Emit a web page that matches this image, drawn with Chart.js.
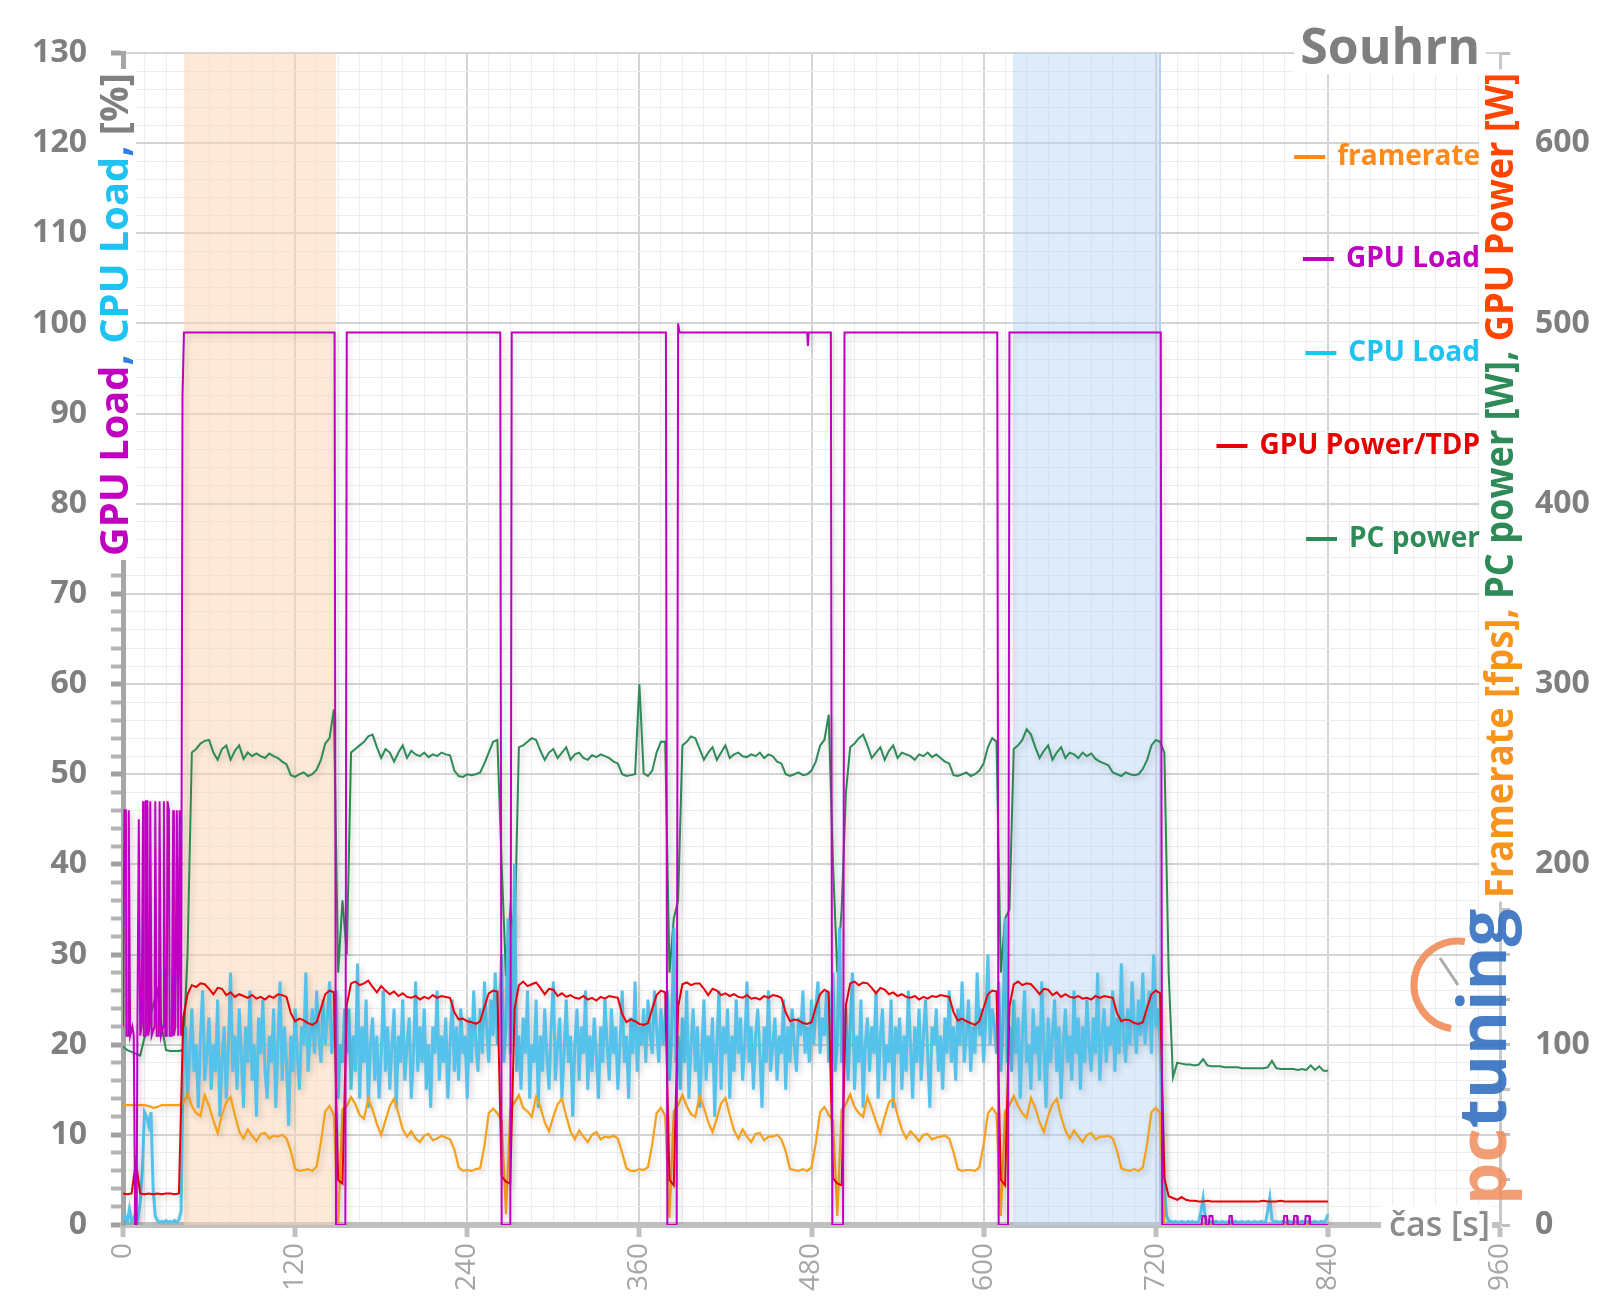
<!DOCTYPE html>
<html>
<head>
<meta charset="utf-8">
<title>Souhrn</title>
<script src="https://cdn.jsdelivr.net/npm/chart.js@4.4.1/dist/chart.umd.min.js"></script>
<style>
  body { margin: 0; background: #fff; }
  #chart { display: block; }
</style>
</head>
<body>
<canvas id="chart" width="1600" height="1313"></canvas>
<script>
//Sampling of the logged series (seconds between samples)
const sampleStep = 3;
const cpuStep = 1.5;

//Framerate [fps] - pre-test, 6 runs with short gaps, idle tail
const framerate = [
  66.5, 66.5, 66.5, 66.5, 66.5, 66.5, 66, 65, 65.5, 66.5, 66.5, 66.5, 66.5, 66.5,
  67.5, 73, 66, 62, 60.5, 72, 66, 58, 51, 61, 68, 71,
  61, 52, 48, 53, 49.5, 46.5, 50.5, 51, 48, 49.5, 49, 50,
  48, 41, 31, 30, 30.5, 31, 30, 32.5, 46, 63, 66, 61,
  0, 64,
  66, 71, 67, 61, 59, 70, 64, 56, 50, 58, 66, 70,
  62, 53, 49, 52, 48, 46, 49.5, 50.5, 47, 48, 49.5, 48.5,
  47.5, 42, 32, 30, 30.5, 30, 31, 31.5, 44, 62, 64.5, 62,
  58, 6, 64,
  68, 72, 65, 63, 60, 71, 65.5, 57, 52, 60, 67, 70,
  60.5, 52, 47.5, 52.5, 49, 46, 50, 51.5, 47.5, 49, 48.5, 49.5,
  48, 40, 31.5, 30, 30, 31, 30.5, 32, 45, 62, 65, 60.5,
  4, 63,
  66.5, 72, 66, 61.5, 60, 71.5, 65, 57, 51.5, 59, 67.5, 70.5,
  61, 52.5, 48, 53, 49, 46, 50.5, 51, 47, 49, 49, 50,
  47.5, 41, 31, 30.5, 30, 31, 30, 32, 45.5, 62.5, 65.5, 61,
  58, 5, 64,
  67, 72.5, 65.5, 62, 60, 71, 64.5, 57.5, 51, 60, 68, 70,
  61, 53, 48, 52, 49.5, 46.5, 50, 50.5, 47.5, 48.5, 49, 49.5,
  48, 40.5, 31, 30, 30.5, 30.5, 30, 32, 44.5, 62, 65, 61.5,
  5, 63,
  66.5, 71.5, 66, 62, 59.5, 70.5, 65, 57, 51.5, 60.5, 67, 70,
  60, 52.5, 48, 52.5, 49, 46, 50, 51, 47.5, 49, 49, 49.5,
  48, 41, 31.5, 30.5, 30, 31, 30, 32, 45, 62.5, 65, 62,
  0, 0, 0, 0, 0, 0, 0, 0, 0, 0, 0, 0, 0,
  0, 0, 0, 0, 0, 0, 0, 0, 0, 0, 0, 0, 0,
  0, 0, 0, 0, 0, 0, 0, 0, 0, 0, 0, 0, 0
];

//CPU Load [%], logged twice as often
const cpuLoad = [
  0.5, 1.0, 0.3, 1.8, 0.4, 0.6, 1.5, 0.8, 2.5, 6, 12.5, 12, 11, 12.5,
  4, 1, 0.5, 0.3, 0.4, 0.3, 0.5, 0.3, 0.4, 0.3, 0.5, 0.3, 0.6, 1.5,
  // run 1
  18, 22, 14, 19, 24, 17, 20, 13, 21, 26, 16, 19,
  23, 15, 20, 17, 25, 12, 18, 22, 14, 20, 28, 17,
  21, 15, 24, 19, 13, 22, 18, 26, 16, 20, 12, 23,
  19, 25, 17, 14, 21, 18, 24, 13, 20, 27, 16, 22,
  18, 11, 21, 17, 24, 19, 15, 22, 20, 28, 17, 21,
  24, 19, 26, 21, 18, 25, 20, 23, 27, 19, 22,
  26, 14, 20, 18, 24,
  // run 2
  19, 24, 15, 21, 17, 29, 14, 22, 18, 25, 13, 20,
  23, 16, 21, 14, 19, 26, 17, 22, 15, 20, 24, 13,
  21, 18, 25, 16, 20, 23, 14, 19, 27, 17, 22, 18,
  24, 15, 20, 13, 22, 19, 26, 16, 21, 18, 23, 14,
  20, 25, 17, 22, 16, 24, 19, 21, 14, 23, 18, 26,
  20, 17, 24, 19, 27, 22, 18, 25, 21, 28, 20, 24,
  30, 18, 22, 34, 19,
  // run 3
  24, 40, 17, 21, 15, 23, 19, 26, 14, 20, 18, 25,
  13, 21, 17, 24, 19, 15, 22, 27, 16, 20, 23, 14,
  19, 25, 18, 21, 12, 20, 24, 16, 22, 19, 26, 15,
  21, 17, 23, 19, 14, 22, 18, 25, 20, 16, 24, 19,
  22, 15, 20, 26, 18, 21, 14, 23, 19, 27, 17, 22,
  20, 24, 18, 25, 21, 19, 26, 22, 18, 24, 20, 23,
  26, 16, 21, 33, 18,
  // run 4
  21, 15, 23, 18, 26, 14, 20, 24, 17, 22, 13, 19,
  25, 16, 21, 18, 23, 12, 20, 26, 15, 22, 19, 24,
  14, 21, 17, 25, 19, 23, 16, 20, 27, 18, 22, 15,
  21, 24, 19, 13, 22, 18, 26, 17, 20, 23, 16, 21,
  19, 25, 15, 22, 18, 24, 20, 17, 23, 21, 26, 19,
  22, 18, 25, 20, 24, 27, 19, 23, 21, 26, 18, 22,
  28, 17, 20, 33, 18,
  // run 5
  20, 24, 16, 22, 28, 15, 21, 18, 25, 13, 20, 23,
  17, 22, 19, 26, 14, 21, 24, 16, 20, 18, 25, 13,
  22, 19, 23, 15, 21, 17, 26, 20, 14, 22, 18, 24,
  16, 21, 25, 19, 13, 22, 20, 24, 17, 21, 15, 23,
  19, 26, 18, 22, 16, 24, 20, 27, 18, 21, 25, 17,
  22, 19, 28, 21, 24, 18, 23, 30, 20, 24, 22, 19,
  27, 17, 22, 34, 18,
  // run 6
  22, 17, 25, 19, 23, 14, 21, 26, 18, 20, 15, 24,
  19, 22, 16, 27, 20, 13, 23, 18, 21, 25, 17, 22,
  14, 20, 24, 18, 21, 16, 26, 19, 23, 15, 22, 18,
  25, 20, 17, 23, 19, 28, 16, 21, 24, 18, 22, 20,
  26, 17, 23, 19, 29, 21, 18, 24, 20, 27, 22, 19,
  25, 21, 28, 20, 23, 26, 19, 30, 22, 24, 20,
  // idle tail
  14, 4, 1, 0.5, 0.4, 0.3, 0.4, 0.3, 0.3, 0.4, 0.3, 0.3, 0.4,
  0.3, 0.4, 0.3, 0.3, 0.4, 1.5, 3, 0.8, 0.3, 0.4, 0.3, 0.3, 0.4,
  0.3, 0.3, 0.4, 0.3, 0.3, 0.4, 0.3, 0.3, 0.4, 0.3, 0.3, 0.4, 0.3,
  0.3, 0.4, 0.3, 0.3, 0.4, 0.3, 0.3, 0.4, 0.3, 0.3, 1.5, 3, 0.6,
  0.3, 0.4, 0.3, 0.3, 0.4, 0.3, 0.3, 0.4, 0.3, 0.3, 0.4, 0.3, 0.3,
  0.4, 0.3, 0.3, 0.4, 0.3, 0.3, 0.4, 0.3, 0.3, 0.4, 0.3, 0.5, 1.2
];

//GPU Power [W]
const gpuPower = [
  17.5, 17, 17.5, 35, 17.5, 17, 17.5, 17, 17.5, 17, 17.5, 17.5, 17, 17.5,
  115, 128, 133, 132, 134, 133.5, 131, 128, 131.5, 131, 127.5, 129,
  126.5, 128, 127, 126, 127.5, 125.5, 126.5, 125, 127, 126, 128, 127.5,
  126.5, 117.5, 113, 114.5, 113.5, 112, 111, 112.5, 120, 128, 130, 129,
  25, 23,
  122, 134, 135, 133, 134, 135.5, 132, 129, 132.5, 130, 128, 129.5,
  127, 128.5, 126.5, 126, 127, 125, 126.5, 125.5, 127.5, 126, 127, 126.5,
  126, 118, 114, 114.5, 113, 112.5, 111.5, 113, 121, 128.5, 130, 129.5,
  27, 24, 23,
  120, 133, 135, 132.5, 133.5, 134.5, 131.5, 128, 131, 130.5, 127, 128.5,
  126.5, 127.5, 126, 125.5, 127, 125, 126, 124.5, 126.5, 125.5, 127, 126.5,
  126, 117, 112.5, 114, 113, 111.5, 111, 112, 120, 127.5, 130, 129,
  25, 22,
  121, 133.5, 134.5, 133, 134, 134, 131, 127.5, 131, 130, 127.5, 128.5,
  127, 128, 126.5, 126, 127.5, 125.5, 126, 125, 127, 126, 127.5, 127,
  126, 118, 113, 114, 113.5, 112, 111.5, 112.5, 121, 128, 130.5, 129,
  26, 23, 22,
  122, 134, 135, 133, 134.5, 134, 131.5, 128.5, 131.5, 130.5, 128, 129,
  127, 128, 126.5, 126, 127, 125, 126.5, 125.5, 127, 126.5, 127.5, 127,
  126.5, 118, 113.5, 114.5, 113, 112, 111, 113, 120.5, 128, 130, 129.5,
  25, 22,
  121, 133.5, 135, 133, 134, 133.5, 131, 128, 131, 130.5, 127.5, 129,
  126.5, 128, 126.5, 126, 127, 125.5, 126, 125, 127, 126, 127, 126.5,
  126, 117.5, 113, 114, 113.5, 112, 111.5, 112.5, 120.5, 128, 130, 128.5,
  26, 16, 15, 14, 15.5, 14, 13.5, 13.5, 13, 13, 13.5, 13, 13,
  13, 13, 13, 13, 13, 13, 13, 13, 13, 13, 13.5, 13, 13,
  13, 13.5, 13, 13, 13, 13, 13, 13, 13, 13, 13, 13, 13
];

//PC power [W]
const pcPower = [
  99, 97, 96, 95, 94, 104, 112, 122, 130, 110, 97, 96.5, 96.5, 96.5,
  97, 150, 262, 264, 267, 268.5, 269, 262, 258, 264, 266, 258,
  263, 266, 258.5, 262, 260, 261.5, 260, 259, 261.5, 260, 259, 257,
  255.5, 249.5, 248.5, 250, 251, 249, 250, 252.5, 258, 267, 270, 286,
  140, 180,
  150, 262, 264, 266, 268, 271, 272, 265, 259, 264, 262, 257,
  262, 266, 259, 263, 261, 260, 262, 259.5, 261, 260, 262, 261,
  260.5, 252, 249, 248.5, 250, 249.5, 250, 251, 256, 262, 268, 269,
  200, 138, 175,
  160, 265, 266, 268, 270, 269, 263, 258, 262, 264, 259, 262,
  265, 258, 261, 262, 259, 258, 260.5, 259.5, 261, 260, 259, 257,
  256, 250, 249, 249.5, 250, 300, 250.5, 249, 252, 262, 268, 268,
  140, 170,
  180, 266, 268, 271, 270, 264, 258, 262, 265, 258, 262, 266,
  259, 261, 262, 260, 259.5, 261, 260, 262, 259, 261, 260, 257,
  256, 250, 249, 250, 251, 249.5, 250, 252, 257, 266, 269, 283,
  200, 140, 175,
  240, 265, 267, 270, 272, 266, 259, 262, 265, 258, 263, 266,
  259, 262, 261, 260, 258, 261, 260, 262, 259.5, 261, 259, 257,
  256, 249.5, 249, 250, 251, 249, 250, 252, 256, 265, 270, 268,
  140, 170,
  175, 264, 266, 269, 275, 272, 265, 259, 263, 266, 258, 262,
  265, 259, 262, 261, 259, 262, 260, 261.5, 258.5, 257, 256, 255,
  251, 250, 249, 251, 250, 249.5, 250, 253, 258, 266, 269, 268,
  262, 140, 82, 90, 89.5, 89, 89, 88.5, 89, 92, 88.5, 88, 88,
  88, 87.5, 87.5, 87.5, 87.5, 87, 87, 87, 87, 87, 87, 87.5, 91,
  87, 86.5, 86.5, 86.5, 86.5, 86, 86.5, 86, 88.5, 86, 88, 85.5, 85.5
];

//GPU Load [%] - corner points of a mostly stepped trace
const gpuTime = [
  0, 1, 2, 2.5, 3.5, 4, 5, 6.5, 7.5, 8.5, 9.5, 10, 11, 12, 13, 14, 14.5, 15.5, 16, 17, 17.5,
  18.5, 19, 20, 22, 22.5, 23.5, 25, 25.5, 26.5, 28, 28.5, 29.5, 30.5, 31, 32, 32.5, 34, 35,
  35.5, 36.5, 37.5, 38.5, 39.5, 40.5, 41.5, 42.5,
  147.5, 148.5, 155, 156,
  263, 264, 270, 271,
  378.5, 379.5, 386, 387, 388,
  477, 477.5, 478,
  493.5, 494.5, 502, 503,
  609.5, 610.5, 617, 618,
  723.5, 724.5,
  752, 752.5, 754.5, 755, 757, 757.5, 759.5, 760, 771, 771.5, 773, 773.5,
  809, 809.5, 811.5, 812, 816, 816.5, 818.5, 819, 824, 824.5, 827, 827.5, 840
];
const gpuLoad = [
  22, 46, 46, 21, 21, 46, 21, 22, 21, 0, 0, 21, 45, 21, 22, 47, 21, 21, 47, 47, 21,
  22, 47, 21, 22, 47, 21, 21, 47, 21, 22, 47, 21, 21, 47, 46, 21, 21, 46,
  21, 22, 46, 21, 46, 21, 92, 99,
  99, 0, 0, 99,
  99, 0, 0, 99,
  99, 0, 0, 100, 99,
  99, 97.5, 99,
  99, 0, 0, 99,
  99, 0, 0, 99,
  99, 0,
  0, 1, 1, 0, 0, 1, 1, 0, 0, 1, 1, 0,
  0, 1, 1, 0, 0, 1, 1, 0, 0, 1, 1, 0, 0
];

//Highlighted measurement windows [s]
const bandStart = [42.5, 620.5];
const bandEnd = [148.5, 723];

//Axis ranges and tick steps
const xMax = 960, xStep = 15, xLabelEvery = 120;
const leftMax = 130, leftStep = 2, leftLabelEvery = 10;
const rightMax = 650, rightStep = 25, rightLabelEvery = 100;

const seriesPoints = (values, step) => values.map((v, i) => ({ x: i * step, y: v }));

Chart.defaults.font.family = "'Open Sans', 'DejaVu Sans', sans-serif";

const colors = {
  fps: '#f5a11c',
  gpuLoad: '#c000c0',
  cpu: '#55c2ec',
  gpuPower: '#e8000b',
  pc: '#2e8b57'
};

//Bands behind the lines
const bandPlugin = {
  id: 'bands',
  beforeDatasetsDraw(chart) {
    const { ctx, chartArea: a, scales: { x } } = chart;
    const fills = ['rgba(251, 212, 176, 0.5)', 'rgba(180, 210, 245, 0.45)'];
    ctx.save();
    bandStart.forEach((s, k) => {
      const x0 = x.getPixelForValue(s);
      const x1 = x.getPixelForValue(bandEnd[k]);
      ctx.fillStyle = fills[k];
      ctx.fillRect(x0, a.top, x1 - x0, a.bottom - a.top);
    });
    // blue window has a thin edge on its right side
    const xe = x.getPixelForValue(bandEnd[1]);
    ctx.strokeStyle = '#b7d0ef';
    ctx.lineWidth = 2;
    ctx.beginPath();
    ctx.moveTo(xe, a.top);
    ctx.lineTo(xe, a.bottom);
    ctx.stroke();
    ctx.restore();
  }
};

//soft shadow under every line, like the original
const shadowPlugin = {
  id: 'lineShadow',
  beforeDatasetDraw(chart) {
    const c = chart.ctx;
    c.save();
    c.shadowColor = 'rgba(0, 0, 0, 0.2)';
    c.shadowBlur = 6;
    c.shadowOffsetX = 2;
    c.shadowOffsetY = 3;
  },
  afterDatasetDraw(chart) {
    chart.ctx.restore();
  }
};

//multicolour rotated axis title, squeezed to the span it has in the original
function verticalTitle(ctx, parts, cx, bottom, top, size) {
  ctx.save();
  ctx.font = 'bold ' + size + 'px ' + Chart.defaults.font.family;
  const full = parts.map(p => p[0]).join('');
  const total = ctx.measureText(full).width;
  const sx = (bottom - top) / total;
  ctx.translate(cx, bottom);
  ctx.rotate(-Math.PI / 2);
  ctx.scale(sx, 1);
  ctx.fillStyle = '#fff';
  ctx.fillRect(-4, -size * 0.52, total + 8, size * 1.04);
  ctx.textBaseline = 'middle';
  ctx.textAlign = 'left';
  let pos = 0;
  parts.forEach(p => {
    ctx.fillStyle = p[1];
    ctx.fillText(p[0], pos, 2);
    pos += ctx.measureText(p[0]).width;
  });
  ctx.restore();
}

//Titles, legend and logo
const textPlugin = {
  id: 'texts',
  afterDraw(chart) {
    const ctx = chart.ctx;
    const fam = Chart.defaults.font.family;

    verticalTitle(ctx, [
      ['GPU Load', '#c000c0'], [',', '#2f7fe0'], [' CPU Load', '#1ec3f2'],
      [',', '#2f7fe0'], [' [%]', '#808080']
    ], 115, 556, 73, 40);

    verticalTitle(ctx, [
      ['Framerate [fps]', '#f7941d'], [',', '#f7941d'], [' PC power [W]', '#2e8b57'],
      [',', '#2e8b57'], [' GPU Power [W]', '#ff4500']
    ], 1500, 898, 73, 40);

    // chart title
    ctx.save();
    ctx.font = 'bold 50px ' + fam;
    ctx.textAlign = 'right';
    ctx.textBaseline = 'alphabetic';
    const tw = ctx.measureText('Souhrn').width;
    ctx.fillStyle = '#fff';
    ctx.fillRect(1480 - tw - 6, 18, tw + 12, 56);
    ctx.fillStyle = '#7f7f7f';
    ctx.fillText('Souhrn', 1480, 64);

    // x axis title sitting on the axis line
    ctx.font = '600 34px ' + fam;
    ctx.textBaseline = 'middle';
    const cw = ctx.measureText('čas [s]').width;
    ctx.fillStyle = '#fff';
    ctx.fillRect(1490 - cw - 8, 1206, cw + 10, 40);
    ctx.fillStyle = '#8c8c8c';
    ctx.fillText('čas [s]', 1490, 1226);

    // legend
    const legendOrder = [0, 1, 2, 3, 4];
    const legendY = [157, 259, 353, 446, 539];
    const legendText = ['#ff8a1c', '#c000c0', '#1ec3f2', '#e60000', '#2e8b57'];
    ctx.font = 'bold 28px ' + fam;
    legendOrder.forEach((d, k) => {
      const ds = chart.data.datasets[d];
      const w = ctx.measureText(ds.label).width;
      ctx.fillStyle = legendText[k];
      ctx.fillText(ds.label, 1480, legendY[k]);
      ctx.strokeStyle = legendText[k];
      ctx.lineWidth = 4;
      ctx.beginPath();
      ctx.moveTo(1480 - w - 43, legendY[k]);
      ctx.lineTo(1480 - w - 12, legendY[k]);
      ctx.stroke();
    });

    // pctuning watermark
    ctx.strokeStyle = 'rgba(240, 140, 90, 0.9)';
    ctx.lineWidth = 7;
    ctx.beginPath();
    ctx.arc(1458, 985, 44, 0.55 * Math.PI, 1.55 * Math.PI);
    ctx.stroke();
    ctx.strokeStyle = 'rgba(150, 150, 150, 0.8)';
    ctx.lineWidth = 3;
    ctx.beginPath();
    ctx.moveTo(1458, 985);
    ctx.lineTo(1440, 958);
    ctx.stroke();
    ctx.translate(1506, 1205);
    ctx.rotate(-Math.PI / 2);
    ctx.font = 'bold 67px ' + fam;
    ctx.textAlign = 'left';
    ctx.textBaseline = 'alphabetic';
    ctx.fillStyle = 'rgba(240, 140, 90, 0.85)';
    ctx.fillText('pc', 0, 0);
    const pw = ctx.measureText('pc').width;
    ctx.fillStyle = 'rgba(52, 112, 192, 0.9)';
    ctx.fillText('tuning', pw, 0);
    ctx.restore();
  }
};

const gridColor = (every) => c => c.tick.value % every === 0 ? '#d4d4d6' : '#ececf1';
const gridWidth = (every) => c => c.tick.value % every === 0 ? 2 : 1;

const chart = new Chart(document.getElementById('chart'), {
  type: 'line',
  data: {
    datasets: [
      {
        label: 'framerate',
        data: seriesPoints(framerate, sampleStep),
        yAxisID: 'y1',
        borderColor: colors.fps,
        borderWidth: 2.2,
        order: 2
      },
      {
        label: 'GPU Load',
        data: gpuTime.map((t, i) => ({ x: t, y: gpuLoad[i] })),
        yAxisID: 'y',
        borderColor: colors.gpuLoad,
        borderWidth: 2,
        order: 0
      },
      {
        label: 'CPU Load',
        data: seriesPoints(cpuLoad, cpuStep),
        yAxisID: 'y',
        borderColor: colors.cpu,
        borderWidth: 3,
        order: 3
      },
      {
        label: 'GPU Power/TDP',
        data: seriesPoints(gpuPower, sampleStep),
        yAxisID: 'y1',
        borderColor: colors.gpuPower,
        borderWidth: 2,
        order: 1
      },
      {
        label: 'PC power',
        data: seriesPoints(pcPower, sampleStep),
        yAxisID: 'y1',
        borderColor: colors.pc,
        borderWidth: 2,
        order: 4
      }
    ]
  },
  options: {
    responsive: false,
    devicePixelRatio: 1,
    animation: false,
    elements: {
      point: { radius: 0 },
      line: { tension: 0, fill: false }
    },
    layout: { padding: { top: 53, left: 0, right: 0, bottom: 0 } },
    plugins: {
      legend: { display: false },
      tooltip: { enabled: false }
    },
    scales: {
      x: {
        type: 'linear',
        min: 0,
        max: xMax,
        afterFit: s => { s.height = 88; },
        border: { color: '#c0c0c0', width: 6 },
        grid: {
          color: gridColor(xLabelEvery),
          lineWidth: gridWidth(xLabelEvery),
          tickLength: 12,
          tickColor: c => c.tick.value % xLabelEvery === 0 ? '#c0c0c0' : 'rgba(0,0,0,0)',
          tickWidth: 5
        },
        ticks: {
          stepSize: xStep,
          autoSkip: false,
          maxRotation: 90,
          minRotation: 90,
          padding: 6,
          color: '#a6a6a6',
          font: { size: 28, weight: 'normal' },
          callback: v => v % xLabelEvery === 0 ? v : ''
        }
      },
      y: {
        position: 'left',
        min: 0,
        max: leftMax,
        afterFit: s => { s.width = 123; },
        border: { color: '#a6a6a6', width: 5 },
        grid: {
          color: gridColor(leftLabelEvery),
          lineWidth: gridWidth(leftLabelEvery),
          tickLength: 12,
          tickColor: c => c.tick.value % leftLabelEvery === 0 ? '#a0a0a0' : '#b4b4b4',
          tickWidth: c => c.tick.value % leftLabelEvery === 0 ? 5 : 4
        },
        ticks: {
          stepSize: leftStep,
          autoSkip: false,
          padding: 24,
          color: '#7f7f7f',
          font: { size: 32, weight: 'bold' },
          callback: v => v % leftLabelEvery === 0 ? v : ''
        }
      },
      y1: {
        position: 'right',
        min: 0,
        max: rightMax,
        afterFit: s => { s.width = 100; },
        border: { color: '#c8c8c8', width: 3 },
        grid: {
          drawOnChartArea: false,
          tickLength: 10,
          tickColor: '#c0c0c0',
          tickWidth: 3
        },
        ticks: {
          stepSize: rightStep,
          autoSkip: false,
          padding: 25,
          color: '#7f7f7f',
          font: { size: 32, weight: 'bold' },
          callback: v => v % rightLabelEvery === 0 ? v : ''
        }
      }
    }
  },
  plugins: [bandPlugin, shadowPlugin, textPlugin]
});
</script>
</body>
</html>
